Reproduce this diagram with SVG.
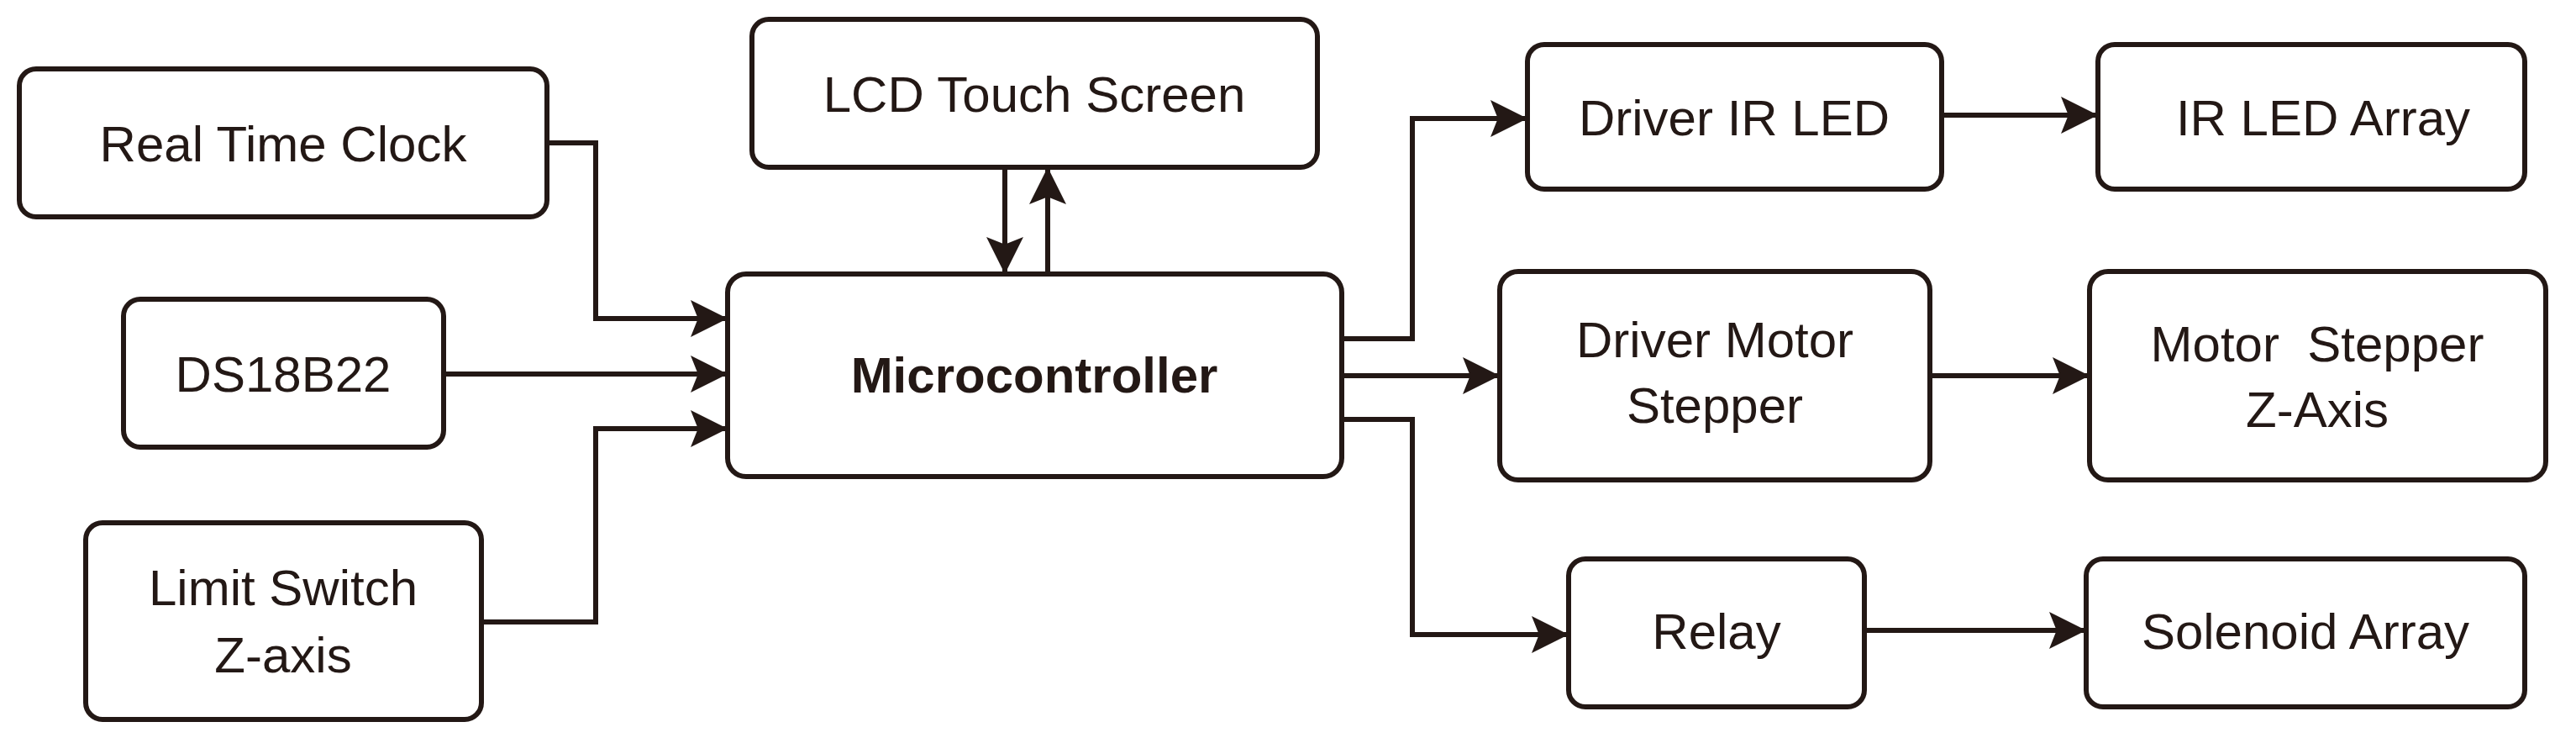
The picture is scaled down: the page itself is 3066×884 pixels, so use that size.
<svg xmlns="http://www.w3.org/2000/svg" width="3066" height="884" viewBox="0 0 3066 884">
<defs>
<marker id="ah" markerWidth="10" markerHeight="10" refX="9" refY="5" orient="auto" markerUnits="userSpaceOnUse" viewBox="0 0 10 10"><path d="M0,0 L10,5 L0,10 Z" fill="#231815"/></marker>
<marker id="a" viewBox="0 0 10 10" refX="10" refY="5" markerWidth="48" markerHeight="44" markerUnits="userSpaceOnUse" orient="auto"><path d="M0,0 L10,5 L0,10 L2,5 Z" fill="#231815"/></marker>
</defs>
<style>
rect{fill:#fff;stroke:#231815;stroke-width:6}
text{font-family:"Liberation Sans",Arial,sans-serif;font-size:60px;fill:#231815;text-anchor:middle}
.b{font-weight:bold}
#connectors path{fill:none;stroke:#231815;stroke-width:6;marker-end:url(#a)}
</style>
<rect width="3066" height="884" style="fill:#fff;stroke:none"/>
<g id="connectors">
<path d="M651,170 H709 V379 H866"/>
<path d="M528,445 H866"/>
<path d="M573,740 H709 V510 H866"/>
<path d="M1196,199 V326"/>
<path d="M1247,326 V199"/>
<path d="M1597,403 H1681 V141 H1818"/>
<path d="M1597,447 H1785"/>
<path d="M1597,499 H1681 V755 H1867"/>
<path d="M2311,137 H2497"/>
<path d="M2297,447 H2487"/>
<path d="M2219,750 H2483"/>
</g>
<g id="rtc"><rect x="23" y="82" width="628" height="176" rx="20"/><text x="337" y="192">Real Time Clock</text></g>
<g id="lcd"><rect x="895" y="23" width="673" height="176" rx="20"/><text x="1231" y="133">LCD Touch Screen</text></g>
<g id="ds"><rect x="147" y="356" width="381" height="176" rx="20"/><text x="337" y="466">DS18B22</text></g>
<g id="limit"><rect x="102" y="622" width="471" height="234" rx="20"/><text x="337" y="720">Limit Switch</text><text x="337" y="800">Z-axis</text></g>
<g id="mcu"><rect x="866" y="326" width="731" height="241" rx="22"/><text class="b" x="1231" y="467">Microcontroller</text></g>
<g id="drvir"><rect x="1818" y="53" width="493" height="172" rx="20"/><text x="2064" y="161">Driver IR LED</text></g>
<g id="irarr"><rect x="2497" y="53" width="508" height="172" rx="20"/><text x="2765" y="161">IR LED Array</text></g>
<g id="drvmot"><rect x="1785" y="323" width="512" height="248" rx="22"/><text x="2041" y="425">Driver Motor</text><text x="2041" y="503">Stepper</text></g>
<g id="mot"><rect x="2487" y="323" width="543" height="248" rx="22"/><text x="2758" y="430" xml:space="preserve">Motor  Stepper</text><text x="2758" y="508">Z-Axis</text></g>
<g id="relay"><rect x="1867" y="665" width="352" height="176" rx="20"/><text x="2043" y="772">Relay</text></g>
<g id="sol"><rect x="2483" y="665" width="522" height="176" rx="20"/><text x="2744" y="772">Solenoid Array</text></g>
</svg>
